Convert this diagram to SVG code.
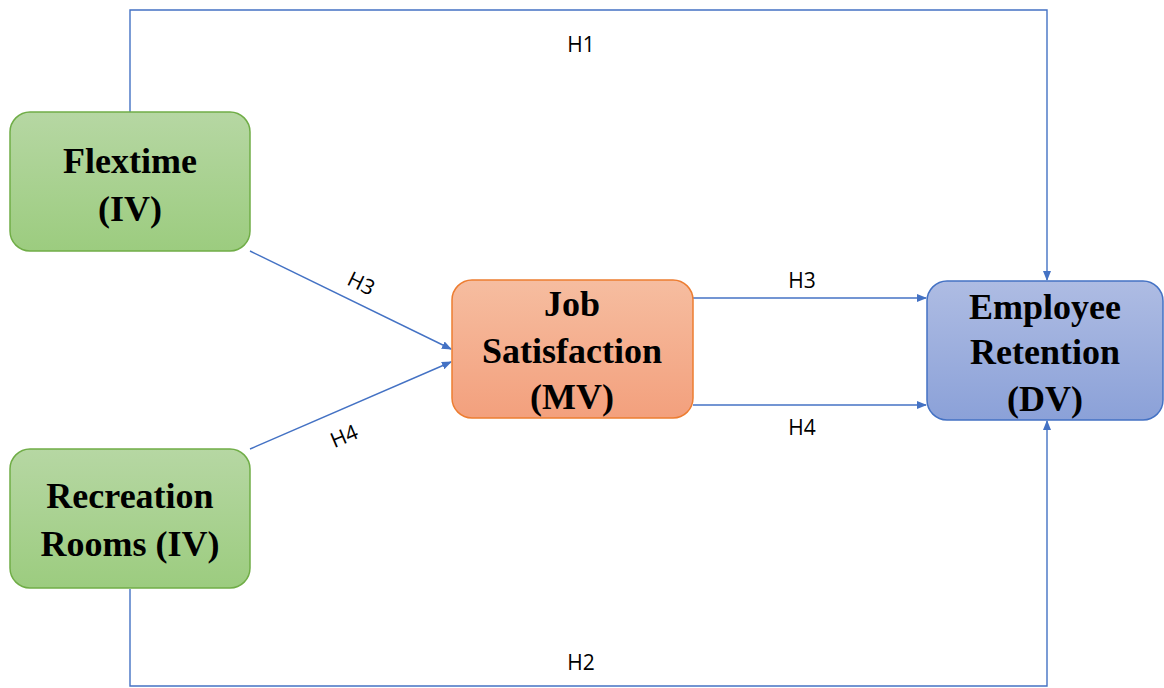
<svg xmlns="http://www.w3.org/2000/svg" width="1164" height="688" viewBox="0 0 1164 688">
<style>
.node{font-family:"Liberation Serif","Times New Roman",serif;font-weight:bold;font-size:36px;fill:#000;text-anchor:middle}
.lbl{font-family:"Open Sans","Liberation Sans",Arial,sans-serif;font-size:21px;fill:#000;text-anchor:middle}
.con{fill:none;stroke:#4472c4;stroke-width:1.4}
</style>
<defs>
<linearGradient id="gG" x1="0" y1="0" x2="0" y2="1"><stop offset="0" stop-color="#b6d7a3"/><stop offset="1" stop-color="#9ccc7f"/></linearGradient>
<linearGradient id="gO" x1="0" y1="0" x2="0" y2="1"><stop offset="0" stop-color="#f6bda0"/><stop offset="1" stop-color="#f3a07d"/></linearGradient>
<linearGradient id="gB" x1="0" y1="0" x2="0" y2="1"><stop offset="0" stop-color="#aebce3"/><stop offset="1" stop-color="#8ba1d8"/></linearGradient>
<marker id="arr" markerWidth="10" markerHeight="8" refX="9" refY="4" orient="auto" markerUnits="userSpaceOnUse"><path d="M0,0 L10,4 L0,8 z" fill="#4472c4"/></marker>
</defs>
<rect width="1164" height="688" fill="#fff"/>
<g id="connectors">
<path class="con" d="M130,112 V10 H1047 V280" marker-end="url(#arr)"/>
<path class="con" d="M130,589 V686 H1047 V421" marker-end="url(#arr)"/>
<path class="con" d="M250,251 L451,349" marker-end="url(#arr)"/>
<path class="con" d="M250,449 L451,362" marker-end="url(#arr)"/>
<path class="con" d="M693,298 H926" marker-end="url(#arr)"/>
<path class="con" d="M693,405 H926" marker-end="url(#arr)"/>
<text class="lbl" x="581" y="52">H1</text>
<text class="lbl" x="581" y="670">H2</text>
<text class="lbl" x="802" y="288">H3</text>
<text class="lbl" x="802" y="435">H4</text>
<text class="lbl" transform="translate(358,290) rotate(26)">H3</text>
<text class="lbl" transform="translate(347,443) rotate(-23)">H4</text>
</g>
<g id="flextime">
<rect x="10" y="112" width="240" height="139" rx="20" fill="url(#gG)" stroke="#70ad47" stroke-width="1.5"/>
<text class="node" x="130" y="173">Flextime</text>
<text class="node" x="130" y="221">(IV)</text>
</g>
<g id="recreation">
<rect x="10" y="449" width="240" height="139" rx="20" fill="url(#gG)" stroke="#70ad47" stroke-width="1.5"/>
<text class="node" x="130" y="508">Recreation</text>
<text class="node" x="130" y="556">Rooms (IV)</text>
</g>
<g id="jobsat">
<rect x="452" y="280" width="241" height="138" rx="20" fill="url(#gO)" stroke="#ed7d31" stroke-width="1.5"/>
<text class="node" x="572" y="316">Job</text>
<text class="node" x="572" y="363">Satisfaction</text>
<text class="node" x="572" y="409">(MV)</text>
</g>
<g id="retention">
<rect x="927" y="281" width="236" height="139" rx="20" fill="url(#gB)" stroke="#4472c4" stroke-width="1.5"/>
<text class="node" x="1045" y="319">Employee</text>
<text class="node" x="1045" y="364">Retention</text>
<text class="node" x="1045" y="411">(DV)</text>
</g>
</svg>
